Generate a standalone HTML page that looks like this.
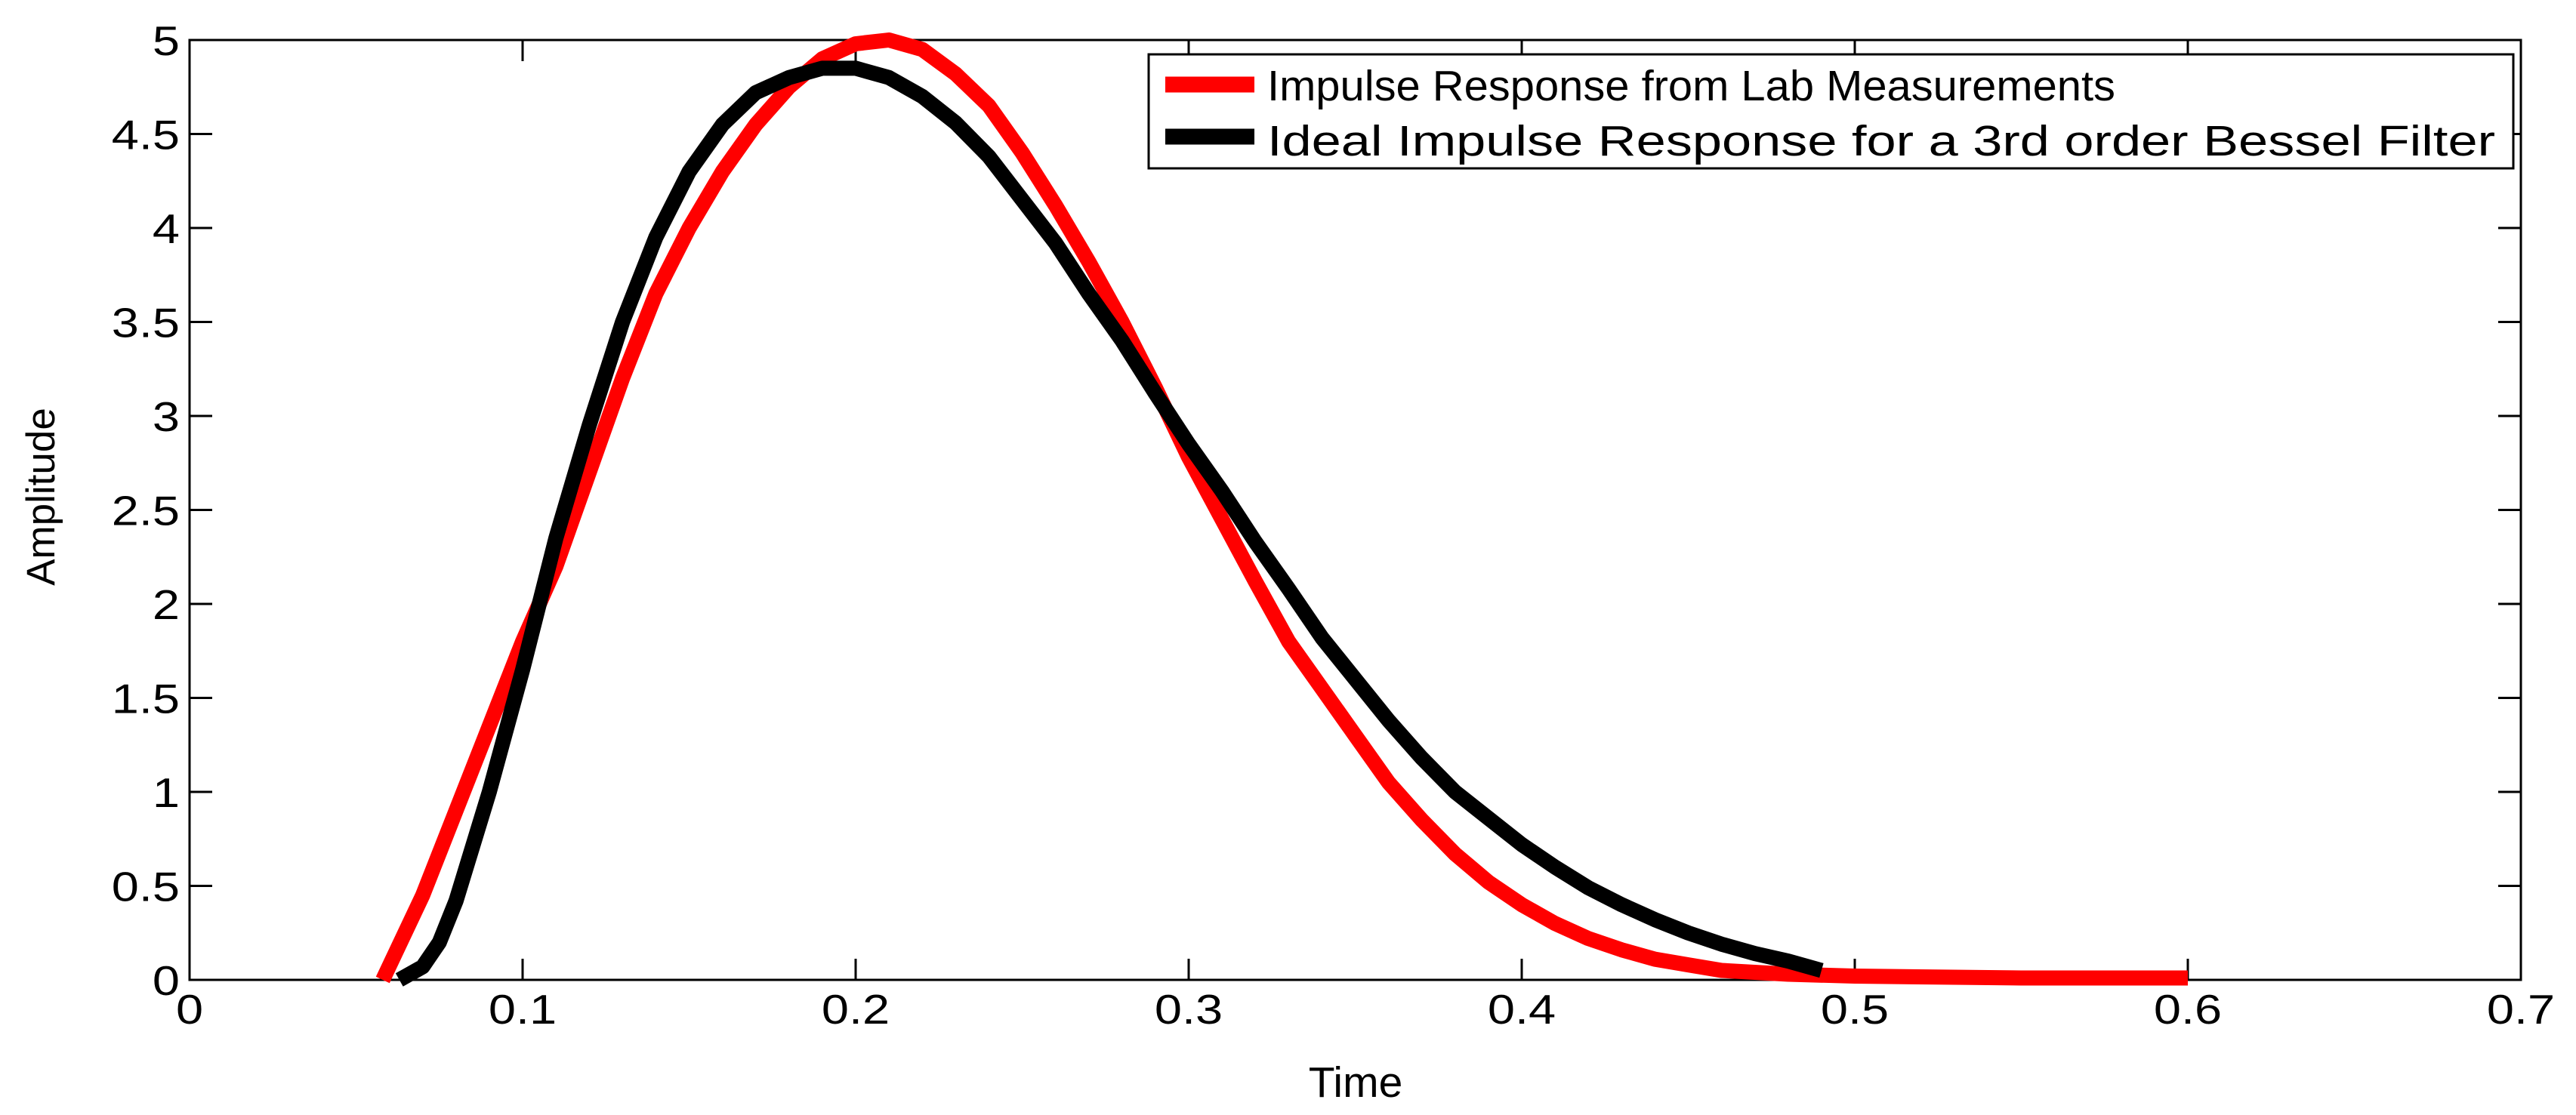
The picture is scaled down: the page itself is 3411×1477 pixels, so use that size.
<!DOCTYPE html>
<html><head><meta charset="utf-8"><style>
html,body{margin:0;padding:0;background:#fff;}
svg{display:block;font-family:"Liberation Sans",Arial,sans-serif;}
</style></head><body>
<svg id="chart" width="3411" height="1477" viewBox="0 0 3411 1477" xmlns="http://www.w3.org/2000/svg">
<rect x="0" y="0" width="3411" height="1477" fill="#fff"/>
<g id="axes"></g>
<g id="series"></g>
<g id="legend"></g>
</svg>
<script>
const xTicks = [0, 0.1, 0.2, 0.3, 0.4, 0.5, 0.6, 0.7];
const xTickLabels = ["0", "0.1", "0.2", "0.3", "0.4", "0.5", "0.6", "0.7"];
const yTicks = [0, 0.5, 1, 1.5, 2, 2.5, 3, 3.5, 4, 4.5, 5];
const yTickLabels = ["0", "0.5", "1", "1.5", "2", "2.5", "3", "3.5", "4", "4.5", "5"];
const labTime = [0.058,0.07,0.08,0.09,0.1,0.11,0.12,0.13,0.14,0.15,0.16,0.17,0.18,0.19,0.2,0.21,0.22,0.23,0.24,0.25,0.26,0.27,0.28,0.29,0.3,0.31,0.32,0.33,0.34,0.35,0.36,0.37,0.38,0.39,0.4,0.41,0.42,0.43,0.44,0.45,0.46,0.48,0.5,0.55,0.6];
const labAmp = [0,0.45,0.9,1.35,1.8,2.2,2.7,3.2,3.65,4.0,4.3,4.55,4.75,4.9,4.98,5.0,4.95,4.82,4.65,4.4,4.12,3.82,3.5,3.15,2.78,2.45,2.12,1.8,1.55,1.3,1.05,0.85,0.67,0.52,0.4,0.3,0.22,0.16,0.11,0.08,0.05,0.03,0.02,0.01,0.01];
const idealTime = [0.063,0.07,0.075,0.08,0.09,0.1,0.11,0.12,0.13,0.14,0.15,0.16,0.17,0.18,0.19,0.2,0.21,0.22,0.23,0.24,0.25,0.26,0.27,0.28,0.29,0.3,0.31,0.32,0.33,0.34,0.35,0.36,0.37,0.38,0.39,0.4,0.41,0.42,0.43,0.44,0.45,0.46,0.47,0.48,0.49];
const idealAmp = [0,0.07,0.2,0.42,1.0,1.65,2.35,2.95,3.5,3.95,4.3,4.55,4.72,4.8,4.85,4.85,4.8,4.7,4.56,4.38,4.15,3.92,3.65,3.4,3.12,2.85,2.6,2.33,2.08,1.82,1.6,1.38,1.18,1.0,0.86,0.72,0.6,0.49,0.4,0.32,0.25,0.19,0.14,0.1,0.05];

const NS = "http://www.w3.org/2000/svg";
const L = 251, R = 3338, T = 53, B = 1298;
const X = v => L + (v - 0) / 0.7 * (R - L);
const Y = v => B - (v - 0) / 5 * (B - T);
function mk(tag, attrs, parent) {
  const e = document.createElementNS(NS, tag);
  for (const k in attrs) e.setAttribute(k, attrs[k]);
  parent.appendChild(e);
  return e;
}
const axes = document.getElementById('axes');
const series = document.getElementById('series');
const legend = document.getElementById('legend');

xTicks.forEach((v, i) => {
  const x = X(v);
  const t1 = mk('line', {x1: x, y1: B, x2: x, y2: B - 28, stroke: '#000', 'stroke-width': 3}, axes);
  
  
  const t2 = mk('line', {x1: x, y1: T, x2: x, y2: T + 28, stroke: '#000', 'stroke-width': 3}, axes);
  
  
  const tx = mk('text', {transform: `translate(${x},1356) scale(1.18,1)`, 'text-anchor': 'middle', 'font-size': 55, fill: '#000'}, axes);
  tx.textContent = xTickLabels[i];
  
  
});
yTicks.forEach((v, i) => {
  const y = Y(v);
  const t1 = mk('line', {x1: L, y1: y, x2: L + 30, y2: y, stroke: '#000', 'stroke-width': 3}, axes);
  
  
  const t2 = mk('line', {x1: R, y1: y, x2: R - 30, y2: y, stroke: '#000', 'stroke-width': 3}, axes);
  
  
  const ty = mk('text', {transform: `translate(238,${y + 20}) scale(1.18,1)`, 'text-anchor': 'end', 'font-size': 55, fill: '#000'}, axes);
  ty.textContent = yTickLabels[i];
  
  
});
const frame = mk('rect', {x: L, y: T, width: R - L, height: B - T, fill: 'none', stroke: '#000', 'stroke-width': 3}, axes);



const xt = mk('text', {x: 1795, y: 1453, 'text-anchor': 'middle', 'font-size': 57, fill: '#000'}, axes);
xt.textContent = 'Time';


const yt = mk('text', {transform: 'translate(72,658) rotate(-90)', 'text-anchor': 'middle', 'font-size': 53, fill: '#000'}, axes);
yt.textContent = 'Amplitude';



function pts(xs, ys) { return xs.map((x, i) => X(x).toFixed(1) + ',' + Y(ys[i]).toFixed(1)).join(' '); }
const red = mk('polyline', {points: pts(labTime, labAmp), fill: 'none', stroke: '#ff0000', 'stroke-width': 20, 'stroke-linejoin': 'round'}, series);


const blk = mk('polyline', {points: pts(idealTime, idealAmp), fill: 'none', stroke: '#000', 'stroke-width': 20, 'stroke-linejoin': 'round'}, series);



const lb = mk('rect', {x: 1521, y: 72, width: 1807, height: 151, fill: '#fff', stroke: '#000', 'stroke-width': 3}, legend);


const s1 = mk('line', {x1: 1543, y1: 112, x2: 1661, y2: 112, stroke: '#ff0000', 'stroke-width': 21}, legend);


const s2 = mk('line', {x1: 1543, y1: 181, x2: 1661, y2: 181, stroke: '#000', 'stroke-width': 21}, legend);


const l1 = mk('text', {x: 1678, y: 133, 'font-size': 57, fill: '#000', textLength: 1123, lengthAdjust: 'spacingAndGlyphs'}, legend);
l1.textContent = 'Impulse Response from Lab Measurements';


const l2 = mk('text', {x: 1678, y: 206, 'font-size': 57, fill: '#000', textLength: 1626, lengthAdjust: 'spacingAndGlyphs'}, legend);
l2.textContent = 'Ideal Impulse Response for a 3rd order Bessel Filter';


</script>
</body></html>
